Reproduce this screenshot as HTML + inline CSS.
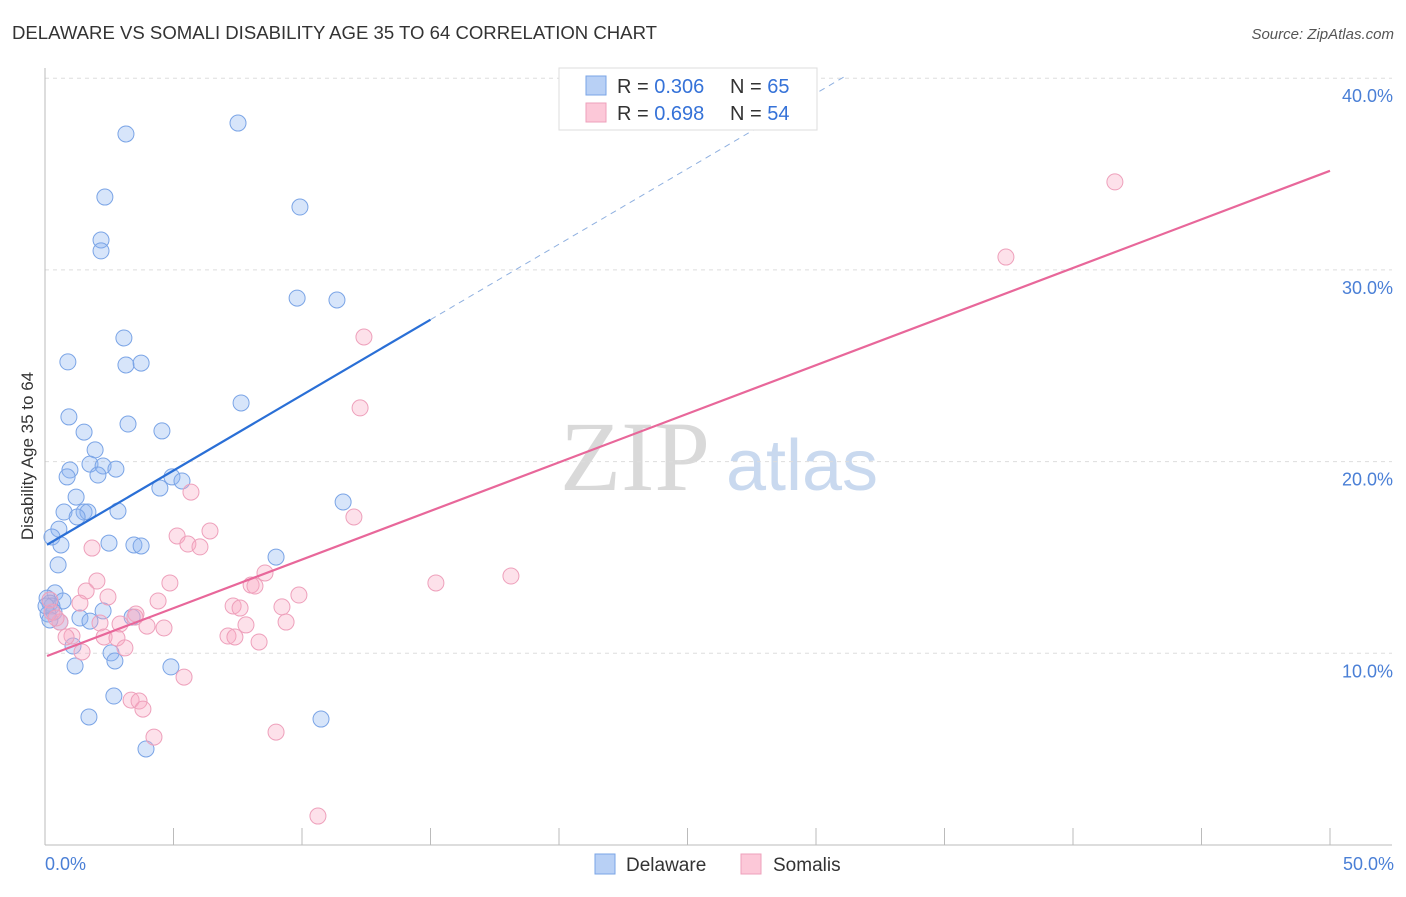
<!DOCTYPE html>
<html><head><meta charset="utf-8"><style>
body{margin:0;background:#fff;font-family:"Liberation Sans",sans-serif;}
</style></head><body>
<svg id="chart" width="1406" height="892" xmlns="http://www.w3.org/2000/svg" style="font-family:'Liberation Sans',sans-serif">
<text x="12" y="39" font-size="18" fill="#333" textLength="645" lengthAdjust="spacingAndGlyphs">DELAWARE VS SOMALI DISABILITY AGE 35 TO 64 CORRELATION CHART</text>
<text x="1394" y="39" font-size="15" fill="#555" font-style="italic" text-anchor="end">Source: ZipAtlas.com</text>
<text x="635" y="490" font-size="100" fill="#d9d9d9" text-anchor="middle" style="font-family:'Liberation Serif',serif">ZIP</text>
<text x="802" y="490" font-size="72" fill="#c9d9ef" text-anchor="middle">atlas</text>
<g id="grid"></g>
<g id="marks"></g>
<text transform="translate(33,456) rotate(-90)" font-size="17" fill="#333" text-anchor="middle">Disability Age 35 to 64</text>
<text x="45" y="870" font-size="18" fill="#4a7fd6">0.0%</text>
<text x="1394" y="870" font-size="18" fill="#4a7fd6" text-anchor="end">50.0%</text>
<g>
<rect x="559" y="68" width="258" height="62" fill="#fff" stroke="#ddd"/>
<rect x="586" y="76" width="20" height="19" fill="#b8d0f5" stroke="#7aa4e6"/>
<rect x="586" y="103" width="20" height="19" fill="#fcc8d8" stroke="#eea0bb"/>
<text x="617" y="93" font-size="20" fill="#333">R = <tspan fill="#3572d8">0.306</tspan></text>
<text x="730" y="93" font-size="20" fill="#333">N = <tspan fill="#3572d8">65</tspan></text>
<text x="617" y="120" font-size="20" fill="#333">R = <tspan fill="#3572d8">0.698</tspan></text>
<text x="730" y="120" font-size="20" fill="#333">N = <tspan fill="#3572d8">54</tspan></text>
</g>
<g>
<rect x="595" y="854" width="20" height="20" fill="#b8d0f5" stroke="#7aa4e6"/>
<text x="626" y="871" font-size="19" fill="#333">Delaware</text>
<rect x="741" y="854" width="20" height="20" fill="#fcc8d8" stroke="#eea0bb"/>
<text x="773" y="871" font-size="19" fill="#333">Somalis</text>
</g>
</svg>
<script>
const yTicks=[10,20,30,40];
const yTickLabels=["10.0%","20.0%","30.0%","40.0%"];
const xTicks=[0,5,10,15,20,25,30,35,40,45,50];
const blueX=[3.15,7.51,2.33,9.92,2.18,2.18,9.81,11.36,3.07,0.89,3.15,3.74,7.63,0.93,3.23,1.52,4.55,1.95,0.97,1.75,2.26,2.76,0.86,2.06,4.94,5.33,4.47,1.21,0.74,1.52,1.67,1.25,2.84,11.60,0.54,0.27,0.62,2.49,3.46,3.74,8.99,0.51,0.39,0.08,0.19,0.70,0.27,0.35,0.12,2.26,1.36,0.58,0.19,1.75,3.39,1.09,2.57,2.72,1.17,4.90,2.68,1.71,10.74,3.93,0.04];
const blueY=[37.09,37.66,33.80,33.28,31.56,30.99,28.53,28.43,26.45,25.20,25.04,25.14,23.06,22.33,21.96,21.54,21.60,20.61,19.56,19.87,19.77,19.61,19.20,19.30,19.20,18.99,18.62,18.15,17.37,17.37,17.37,17.11,17.42,17.89,16.48,16.07,15.65,15.75,15.65,15.60,15.02,14.61,13.15,12.88,12.62,12.73,12.47,12.15,12.05,12.21,11.84,11.63,11.74,11.68,11.89,10.38,10.02,9.60,9.34,9.29,7.77,6.68,6.57,5.01,12.47];
const pinkX=[41.63,37.39,12.41,12.26,12.02,5.68,6.42,5.14,5.56,6.03,1.83,8.56,18.13,15.21,2.02,4.86,8.02,8.17,1.60,2.45,9.88,4.40,1.36,7.32,7.59,9.22,3.54,3.50,9.38,7.82,2.92,2.14,3.97,4.63,1.05,0.82,2.30,2.80,7.12,7.39,8.33,3.11,1.44,5.41,3.35,3.66,3.81,8.99,4.24,10.62,0.58,0.27,0.43,0.19];
const pinkY=[34.59,30.67,26.50,22.80,17.11,18.41,16.38,16.12,15.70,15.55,15.49,14.19,14.03,13.67,13.77,13.67,13.56,13.51,13.25,12.94,13.04,12.73,12.62,12.47,12.36,12.42,12.05,11.89,11.63,11.48,11.53,11.58,11.42,11.32,10.90,10.85,10.85,10.80,10.90,10.85,10.59,10.28,10.07,8.76,7.56,7.51,7.09,5.89,5.63,1.51,11.63,12.15,11.84,12.78];
const blueLine=[15.6,0.787];
const pinkLine=[9.82,0.507];
const X=v=>45+v*25.7, Y=v=>845-v*19.17;
const NS="http://www.w3.org/2000/svg";
const grid=document.getElementById('grid'), marks=document.getElementById('marks');
function mk(tag,attrs,parent){const e=document.createElementNS(NS,tag);for(const k in attrs)e.setAttribute(k,attrs[k]);parent.appendChild(e);return e;}
yTicks.forEach((t,i)=>{
 const l=mk('line',{x1:45,x2:1392,y1:Y(t),y2:Y(t),stroke:'#ddd','stroke-dasharray':'4,4'},grid);
 
 
 const tx=mk('text',{x:1393,y:Y(t)+24,'font-size':18,fill:'#4a7fd6','text-anchor':'end'},grid);
 tx.textContent=yTickLabels[i];
 
 
});
const ax=mk('line',{x1:45,x2:1392,y1:845,y2:845,stroke:'#bbb'},grid);


const ay=mk('line',{x1:45,x2:45,y1:68,y2:845,stroke:'#bbb'},grid);


xTicks.forEach(t=>{
 const l=mk('line',{x1:X(t),x2:X(t),y1:828,y2:845,stroke:'#bbb'},grid);
 
 
});
blueX.forEach((v,i)=>{
 const c=mk('circle',{cx:X(v),cy:Y(blueY[i]),r:8,fill:'rgba(140,180,240,0.35)',stroke:'#7aa4e6','stroke-width':1},marks);
 
 
});
pinkX.forEach((v,i)=>{
 const c=mk('circle',{cx:X(v),cy:Y(pinkY[i]),r:8,fill:'rgba(248,170,195,0.35)',stroke:'#eea0bb','stroke-width':1},marks);
 
 
});
const bl=mk('line',{x1:X(0.08),y1:Y(blueLine[0]+blueLine[1]*0.08),x2:X(15),y2:Y(blueLine[0]+blueLine[1]*15),stroke:'#2a6fd6','stroke-width':2.2},marks);


const bd=mk('line',{x1:X(15),y1:Y(blueLine[0]+blueLine[1]*15),x2:X(31.1),y2:Y(blueLine[0]+blueLine[1]*31.1),stroke:'#8fb0e0','stroke-width':1,'stroke-dasharray':'6,5'},marks);


const pl=mk('line',{x1:X(0.08),y1:Y(pinkLine[0]+pinkLine[1]*0.08),x2:X(50),y2:Y(pinkLine[0]+pinkLine[1]*50),stroke:'#e8679a','stroke-width':2.2},marks);


</script>
</body></html>
